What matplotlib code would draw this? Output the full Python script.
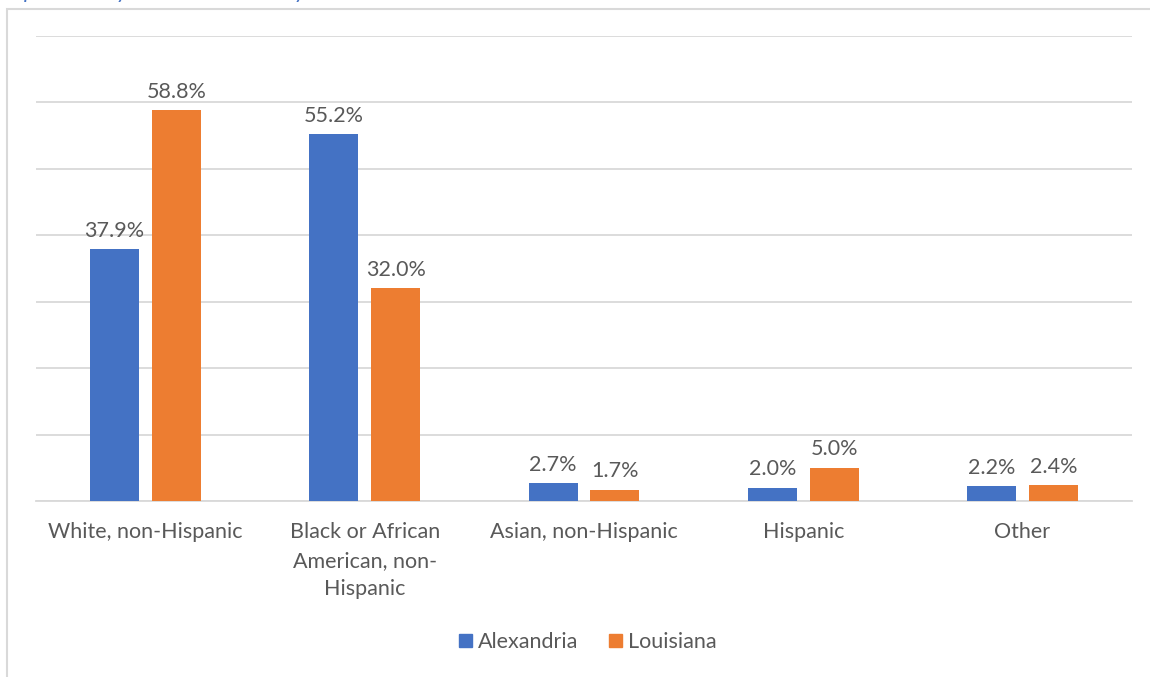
import matplotlib
matplotlib.use("Agg")
import matplotlib.pyplot as plt
from matplotlib.patches import Rectangle
import numpy as np

categories = ["White, non-Hispanic", "Black or African\nAmerican, non-\nHispanic",
              "Asian, non-Hispanic", "Hispanic", "Other"]
alexandria = [37.9, 55.2, 2.7, 2.0, 2.2]
louisiana = [58.8, 32.0, 1.7, 5.0, 2.4]
series_names = ["Alexandria", "Louisiana"]
colors = ["#4472C4", "#ED7D31"]

W, H = 1150, 677
fig = plt.figure(figsize=(W/100, H/100), dpi=100)
plt.rcParams['font.family'] = ['Lato', 'DejaVu Sans']
txt = "#595959"
fs = 15.5

# chart border (partially off-canvas)
fig.patches.append(Rectangle((7/W, -0.1), 1.2, 1 - 9/H + 0.1, transform=fig.transFigure,
                             fill=False, edgecolor="#d9d9d9", linewidth=1.5))
# cut-off title (only descenders visible in the reference)
fig.text(0.0, 1 + 2/H, "Population by Race and Ethnicity", color="#4472C4", style="italic",
         fontsize=16, ha="left", va="baseline")

ax = fig.add_axes([36/W, 1 - 501/H, (1132-36)/W, (501-36)/H])
x = np.arange(len(categories))
bw = 0.2235
off = 0.1414
for vals, o, c in [(alexandria, -off, colors[0]), (louisiana, off, colors[1])]:
    bars = ax.bar(x + o, vals, width=bw, color=c, zorder=3)
    for b, v in zip(bars, vals):
        ax.annotate(f"{v:.1f}%", (b.get_x() + b.get_width()/2, v), xytext=(0, 6),
                    textcoords="offset points", ha="center", va="bottom",
                    fontsize=fs, color=txt)

ax.set_xlim(-0.5, len(categories) - 0.5)
ax.set_ylim(0, 70)
ax.set_yticks(np.arange(0, 71, 10))
ax.set_yticklabels([])
ax.tick_params(axis="y", length=0)
ax.grid(axis="y", color="#d9d9d9", linewidth=1.3, zorder=0)
ax.set_xticks(x)
ax.set_xticklabels(categories, fontsize=fs, color=txt, linespacing=1.55)
ax.tick_params(axis="x", length=0, pad=15)
for s in ["top", "right", "left"]:
    ax.spines[s].set_visible(False)
ax.spines["bottom"].set_color("#d9d9d9")
ax.spines["bottom"].set_linewidth(1.3)

handles = [Rectangle((0, 0), 1, 1, color=c) for c in colors]
fig.legend(handles, series_names, loc="center", bbox_to_anchor=(588/W, 1 - 642/H),
           ncol=2, frameon=False, fontsize=fs, labelcolor=txt,
           handlelength=0.6, handleheight=0.6, handletextpad=0.3, columnspacing=1.4)

fig.savefig("out.png", dpi=100)
